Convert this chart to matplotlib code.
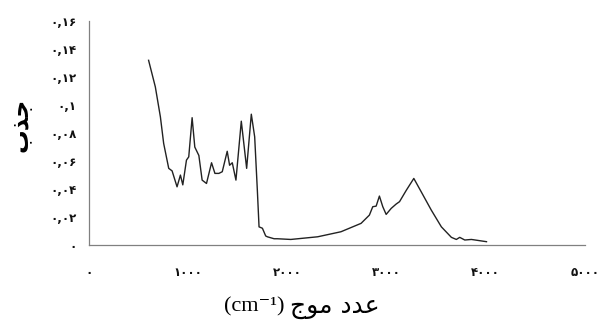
import matplotlib
matplotlib.use('Agg')
import matplotlib.pyplot as plt
from matplotlib.ticker import FixedLocator, FuncFormatter

# spectrum (wavenumber cm-1, absorbance)
wavenumber = [600, 668, 719, 752, 803, 837, 887, 921, 945, 982, 1005, 1039, 1066,
              1107, 1140, 1184, 1235, 1269, 1309, 1343, 1393, 1417, 1444, 1481,
              1535, 1589, 1636, 1670, 1697, 1714, 1748, 1781, 1798, 1866, 1900,
              2034, 2305, 2540, 2743, 2827, 2861, 2895, 2928, 2962, 2996, 3047,
              3097, 3131, 3198, 3275, 3350, 3451, 3553, 3654, 3704, 3738, 3789,
              3856, 4008]
absorbance = [0.132, 0.113, 0.0916, 0.0726, 0.0548, 0.053, 0.0416, 0.050, 0.043,
              0.0607, 0.063, 0.091, 0.070, 0.064, 0.0464, 0.044, 0.0588, 0.0512,
              0.0512, 0.0524, 0.067, 0.057, 0.0588, 0.0464, 0.0885, 0.0548, 0.0935,
              0.0773, 0.039, 0.013, 0.012, 0.0065, 0.0059, 0.0045, 0.0045, 0.004,
              0.0059, 0.0095, 0.0155, 0.0214, 0.0274, 0.0278, 0.035, 0.0274, 0.0219,
              0.0262, 0.0293, 0.031, 0.039, 0.0476, 0.038, 0.025, 0.013, 0.0055,
              0.004, 0.0055, 0.0036, 0.004, 0.0024]

x_ticks = [0, 1000, 2000, 3000, 4000, 5000]
y_ticks = [0, 0.02, 0.04, 0.06, 0.08, 0.1, 0.12, 0.14, 0.16]

# Persian digits
FA = str.maketrans('0123456789', '\u06f0\u06f1\u06f2\u06f3\u06f4\u06f5\u06f6\u06f7\u06f8\u06f9')

def fa_x(v, pos):
    return str(int(round(v))).translate(FA)

def fa_y(v, pos):
    s = ('%.2f' % v).rstrip('0').rstrip('.')
    return s.replace('.', ',').translate(FA)

# Arabic text in visual (left-to-right) order with presentation forms
ylabel_txt = '\uFE8F\uFEAC\uFE9F'                       # جذب
xlabel_ar = '\uFE9D\uFEEE\uFEE3 \uFEA9\uFEAA\uFECB'       # عدد موج

fig = plt.figure(figsize=(5.98, 3.25), dpi=100)
ax = fig.add_axes([0.149, 0.246, 0.829, 0.689])

ax.plot(wavenumber, absorbance, color='#222222', linewidth=1.0)

ax.set_xlim(0, 5000)
ax.set_ylim(0, 0.16)
ax.xaxis.set_major_locator(FixedLocator(x_ticks))
ax.yaxis.set_major_locator(FixedLocator(y_ticks))
ax.xaxis.set_major_formatter(FuncFormatter(fa_x))
ax.yaxis.set_major_formatter(FuncFormatter(fa_y))
ax.tick_params(axis='both', length=0, labelsize=8.5, colors='#111111')
ax.tick_params(axis='x', pad=15)
ax.tick_params(axis='y', pad=9)
for lab in ax.get_xticklabels() + ax.get_yticklabels():
    lab.set_fontweight('bold')
    lab.set_family(['DejaVu Sans'])

for side in ['top', 'right']:
    ax.spines[side].set_visible(False)
for side in ['left', 'bottom']:
    ax.spines[side].set_color('#808080')
    ax.spines[side].set_linewidth(0.9)

fig.text(0.035, 0.615, ylabel_txt, rotation=90, ha='center', va='center',
         fontsize=17, fontweight='bold', family=['DejaVu Sans'])

fig.text(0.485, 0.055, '(cm\u207b\u00b9) ', ha='right', va='center',
         fontsize=16, family=['Liberation Serif', 'DejaVu Serif'])
fig.text(0.485, 0.055, xlabel_ar, ha='left', va='center',
         fontsize=18, family=['DejaVu Sans'])

fig.savefig('out.png', dpi=100)
